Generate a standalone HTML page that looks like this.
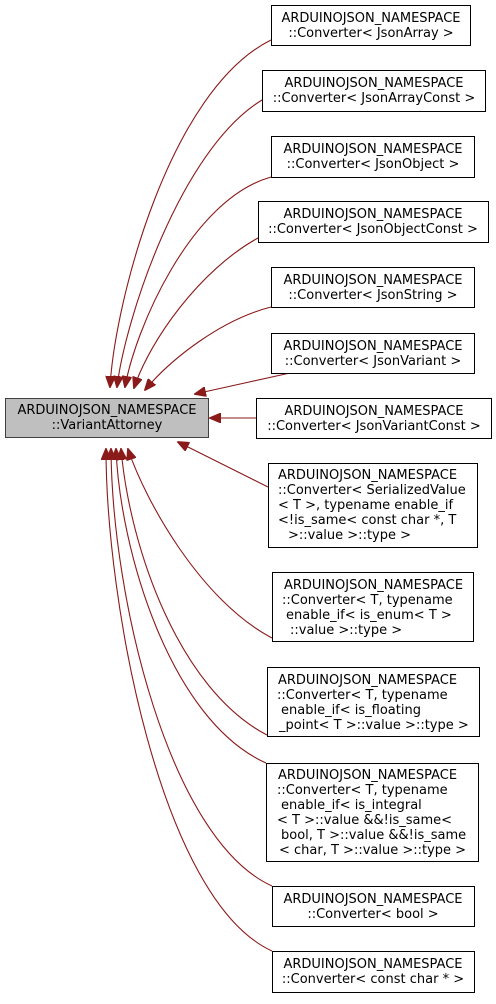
<!DOCTYPE html>
<html><head><meta charset="utf-8"><style>
html,body{margin:0;padding:0;background:#fff;}
svg text{font-family:"DejaVu Sans","Liberation Sans",sans-serif;font-size:13px;fill:#000;}
</style></head><body>
<svg width="496" height="999" viewBox="0 0 496 999" xmlns="http://www.w3.org/2000/svg">
<defs>
<marker id="a" markerWidth="12" markerHeight="10" refX="11" refY="5" orient="auto" markerUnits="userSpaceOnUse">
<path d="M0,0 L12,5 L0,10 z" fill="#8b1a1a" stroke="#8b1a1a"/>
</marker>
</defs>
<g fill="none" stroke="#8b1a1a" stroke-width="1.1" marker-end="url(#a)">
<path d="M271,40 C170,90 115,300 110,387"/>
<path d="M262,100 C180,150 125,320 117,387"/>
<path d="M271,177 C190,200 135,330 125,387"/>
<path d="M258,238 C200,270 150,340 134,388"/>
<path d="M271,307 C220,320 170,360 145,390"/>
<path d="M290,373 L195,394"/>
<path d="M256,418 L210,418"/>
<path d="M268,487 L178,442"/>
<path d="M272,638 C200,600 145,500 128,449"/>
<path d="M267,735 C180,690 130,550 121,449"/>
<path d="M266,763 C170,720 120,550 116,449"/>
<path d="M272,886 C170,840 112,600 111,449"/>
<path d="M272,951 C160,900 106,600 106,449"/>
</g>
<g stroke="#000" stroke-width="1" fill="#fff">
<rect x="5.5" y="398.5" width="203" height="39" fill="#bfbfbf" stroke="#404040"/>
<rect x="271.5" y="5.5" width="199" height="40"/>
<rect x="262.5" y="70.5" width="223" height="41"/>
<rect x="271.5" y="136.5" width="203" height="41"/>
<rect x="258.5" y="201.5" width="230" height="41"/>
<rect x="271.5" y="267.5" width="203" height="40"/>
<rect x="271.5" y="333.5" width="203" height="40"/>
<rect x="256.5" y="398.5" width="235" height="40"/>
<rect x="268.5" y="463.5" width="209" height="84"/>
<rect x="272.5" y="572.5" width="201" height="69"/>
<rect x="267.5" y="667.5" width="212" height="69"/>
<rect x="266.5" y="763.5" width="212" height="98"/>
<rect x="272.5" y="886.5" width="202" height="40"/>
<rect x="272.5" y="951.5" width="202" height="41"/>
</g>
<g text-anchor="middle">
<text x="107" y="414">ARDUINOJSON_NAMESPACE</text><text x="107" y="429">::VariantAttorney</text>
<text x="371" y="22">ARDUINOJSON_NAMESPACE</text><text x="371" y="37">::Converter&lt; JsonArray &gt;</text>
<text x="374" y="87">ARDUINOJSON_NAMESPACE</text><text x="374" y="102">::Converter&lt; JsonArrayConst &gt;</text>
<text x="373" y="153">ARDUINOJSON_NAMESPACE</text><text x="373" y="168">::Converter&lt; JsonObject &gt;</text>
<text x="373" y="218">ARDUINOJSON_NAMESPACE</text><text x="373" y="233">::Converter&lt; JsonObjectConst &gt;</text>
<text x="373" y="284">ARDUINOJSON_NAMESPACE</text><text x="373" y="299">::Converter&lt; JsonString &gt;</text>
<text x="373" y="350">ARDUINOJSON_NAMESPACE</text><text x="373" y="365">::Converter&lt; JsonVariant &gt;</text>
<text x="374" y="415">ARDUINOJSON_NAMESPACE</text><text x="374" y="430">::Converter&lt; JsonVariantConst &gt;</text>
<text x="373" y="903">ARDUINOJSON_NAMESPACE</text><text x="373" y="918">::Converter&lt; bool &gt;</text>
<text x="373" y="968">ARDUINOJSON_NAMESPACE</text><text x="373" y="983">::Converter&lt; const char * &gt;</text>
</g>
<g xml:space="preserve">
<text x="278" y="479">ARDUINOJSON_NAMESPACE</text>
<text x="278" y="494">::Converter&lt; SerializedValue</text>
<text x="278" y="509">&lt; T &gt;, typename enable_if</text>
<text x="278" y="524">&lt;!is_same&lt; const char *, T</text>
<text x="288" y="539">&gt;::value &gt;::type &gt;</text>
<text x="284" y="589">ARDUINOJSON_NAMESPACE</text>
<text x="282" y="604">::Converter&lt; T, typename</text>
<text x="286" y="619">enable_if&lt; is_enum&lt; T &gt;</text>
<text x="290" y="634">::value &gt;::type &gt;</text>
<text x="278" y="684">ARDUINOJSON_NAMESPACE</text>
<text x="277" y="699">::Converter&lt; T, typename</text>
<text x="281" y="714">enable_if&lt; is_floating</text>
<text x="279" y="729">_point&lt; T &gt;::value &gt;::type &gt;</text>
<text x="278" y="779">ARDUINOJSON_NAMESPACE</text>
<text x="277" y="794">::Converter&lt; T, typename</text>
<text x="281" y="809">enable_if&lt; is_integral</text>
<text x="277" y="824">&lt; T &gt;::value &amp;&amp;!is_same&lt;</text>
<text x="281" y="839">bool, T &gt;::value &amp;&amp;!is_same</text>
<text x="279" y="854">&lt; char, T &gt;::value &gt;::type &gt;</text>
</g>
</svg>
</body></html>
